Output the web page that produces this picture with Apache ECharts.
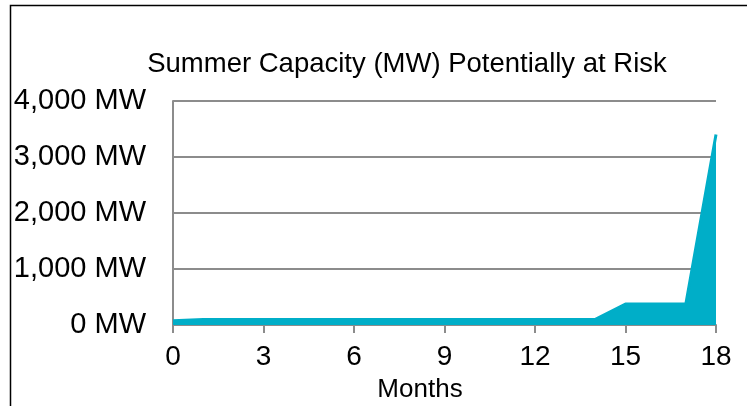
<!DOCTYPE html>
<html>
<head>
<meta charset="utf-8">
<script src="https://cdn.jsdelivr.net/npm/echarts@6/dist/echarts.min.js"></script>
<style>
html,body{margin:0;padding:0;background:#fff;}
#chart{width:747px;height:406px;}
</style>
</head>
<body>
<div id="chart"></div>
<script>
var chartTitle = 'Summer Capacity (MW) Potentially at Risk';
var xAxisTitle = 'Months';
var months = [0, 1, 2, 3, 4, 5, 6, 7, 8, 9, 10, 11, 12, 13, 14, 15, 16, 17, 18];
var capacityMW = [75, 100, 100, 100, 100, 100, 100, 100, 100, 100, 100, 100, 100, 100, 100, 375, 375, 375, 3400];

var seriesData = months.map(function (m, i) { return [m, capacityMW[i]]; });

var FONT = "'Liberation Sans', Arial, sans-serif";
var chart = echarts.init(document.getElementById('chart'));
chart.setOption({
  backgroundColor: '#ffffff',
  animation: false,
  title: [{
    text: chartTitle,
    left: 402,
    top: 45,
    textAlign: 'center',
    textStyle: { fontFamily: FONT, fontSize: 27.5, fontWeight: 'normal', color: '#000' }
  }, {
    text: xAxisTitle,
    left: 415,
    top: 372,
    textAlign: 'center',
    textStyle: { fontFamily: FONT, fontSize: 26, fontWeight: 'normal', color: '#000' }
  }],
  grid: { left: 173, right: 31, top: 101, bottom: 81 },
  xAxis: {
    type: 'value',
    min: 0, max: 18, interval: 3,
    axisLine: { show: true, lineStyle: { color: '#8c8c8c', width: 2 } },
    axisTick: { show: true, length: 8, lineStyle: { color: '#8c8c8c', width: 2 } },
    splitLine: { show: false },
    axisLabel: { margin: 18, fontFamily: FONT, fontSize: 28, color: '#000' }
  },
  yAxis: {
    type: 'value',
    min: 0, max: 4000, interval: 1000,
    axisLine: { show: true, lineStyle: { color: '#8c8c8c', width: 2 } },
    axisTick: { show: false },
    splitLine: { show: true, lineStyle: { color: '#8c8c8c', width: 2 } },
    axisLabel: {
      margin: 27, fontFamily: FONT, fontSize: 29, color: '#000',
      formatter: function (v) { return v.toLocaleString('en-US') + ' MW'; }
    }
  },
  series: [{
    type: 'line',
    data: seriesData,
    showSymbol: false,
    symbol: 'none',
    lineStyle: { color: '#00aec8', width: 3, join: 'round' },
    areaStyle: { color: '#00aec8', opacity: 1 },
    z: 1
  }],
  graphic: [{
    type: 'polyline',
    shape: { points: [[10.5, 406], [10.5, 5.5], [747, 5.5]] },
    style: { stroke: '#000', lineWidth: 1.5, fill: null },
    silent: true
  }]
});
</script>
</body>
</html>
